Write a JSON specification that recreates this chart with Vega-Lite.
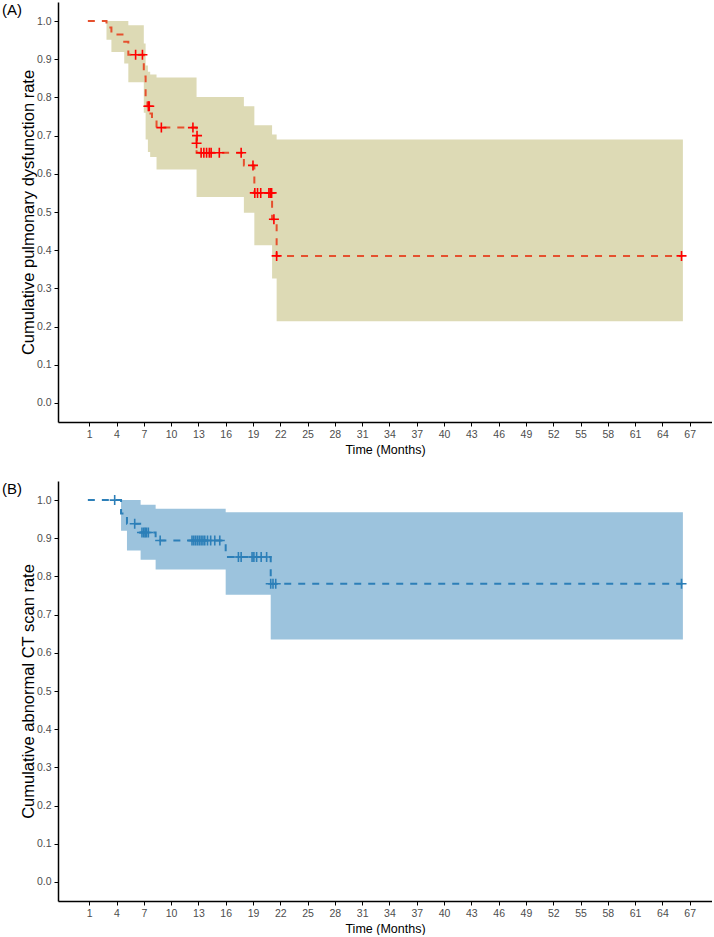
{
  "$schema": "https://vega.github.io/schema/vega-lite/v6.json",
  "padding": {"left": 2, "top": 2, "right": 0, "bottom": 0},
  "spacing": 25,
  "config": {
    "view": {"stroke": null},
    "axis": {"grid": false, "domainColor": "black", "domainWidth": 1.5, "tickColor": "black", "tickSize": 4, "tickWidth": 1, "labelColor": "#4D4D4D", "labelFont": "Liberation Sans", "labelFontSize": 10.5, "labelPadding": 3, "labelOverlap": false, "titleFont": "Liberation Sans", "titleFontSize": 12.5, "titleFontWeight": "normal", "titleColor": "black", "titlePadding": 4},
    "axisX": {"labelOverlap": false, "tickCount": 40},
    "axisY": {"titleFontSize": 16.5, "titlePadding": 0, "tickCount": 20}
  },
  "datasets": {
    "curveA": [
      {"t": 0.85, "S": 1.0}, {"t": 2.9, "S": 0.983}, {"t": 3.44, "S": 0.965}, {"t": 4.85, "S": 0.946},
      {"t": 5.3, "S": 0.912}, {"t": 7.0, "S": 0.855}, {"t": 7.2, "S": 0.797}, {"t": 7.4, "S": 0.777},
      {"t": 7.6, "S": 0.758}, {"t": 7.9, "S": 0.74}, {"t": 8.4, "S": 0.721}, {"t": 12.8, "S": 0.655},
      {"t": 18.0, "S": 0.622}, {"t": 19.15, "S": 0.55}, {"t": 21.1, "S": 0.481}, {"t": 21.6, "S": 0.385},
      {"t": 66.2, "S": 0.385}
    ],
    "bandA": [
      {"t": 2.9, "lo": 0.951, "hi": 1.0}, {"t": 3.44, "lo": 0.919, "hi": 1.0}, {"t": 4.85, "lo": 0.889, "hi": 1.0},
      {"t": 5.3, "lo": 0.84, "hi": 0.989}, {"t": 7.0, "lo": 0.76, "hi": 0.941}, {"t": 7.2, "lo": 0.69, "hi": 0.884},
      {"t": 7.45, "lo": 0.657, "hi": 0.867}, {"t": 7.7, "lo": 0.644, "hi": 0.86}, {"t": 8.4, "lo": 0.611, "hi": 0.852},
      {"t": 12.8, "lo": 0.539, "hi": 0.801}, {"t": 18.0, "lo": 0.498, "hi": 0.777}, {"t": 19.15, "lo": 0.413, "hi": 0.727},
      {"t": 21.1, "lo": 0.326, "hi": 0.703}, {"t": 21.6, "lo": 0.214, "hi": 0.69}, {"t": 66.25, "lo": 0.214, "hi": 0.69}
    ],
    "censA": [
      {"t": 6.1, "S": 0.912}, {"t": 6.85, "S": 0.912}, {"t": 7.5, "S": 0.777}, {"t": 7.6, "S": 0.777},
      {"t": 8.93, "S": 0.721}, {"t": 12.4, "S": 0.721}, {"t": 12.85, "S": 0.70}, {"t": 12.8, "S": 0.68},
      {"t": 13.3, "S": 0.655}, {"t": 13.6, "S": 0.655}, {"t": 13.9, "S": 0.655}, {"t": 14.2, "S": 0.655},
      {"t": 14.4, "S": 0.655}, {"t": 15.3, "S": 0.655}, {"t": 17.7, "S": 0.655}, {"t": 19.0, "S": 0.622},
      {"t": 19.2, "S": 0.55}, {"t": 19.5, "S": 0.55}, {"t": 19.85, "S": 0.55}, {"t": 20.75, "S": 0.55},
      {"t": 20.9, "S": 0.55}, {"t": 21.05, "S": 0.55}, {"t": 21.3, "S": 0.481}, {"t": 21.6, "S": 0.385},
      {"t": 66.1, "S": 0.385}
    ],
    "curveB": [
      {"t": 0.85, "S": 1.0}, {"t": 4.5, "S": 0.965}, {"t": 5.15, "S": 0.938}, {"t": 6.6, "S": 0.915},
      {"t": 8.3, "S": 0.894}, {"t": 16.0, "S": 0.851}, {"t": 20.95, "S": 0.781}, {"t": 66.2, "S": 0.781}
    ],
    "bandB": [
      {"t": 4.5, "lo": 0.92, "hi": 1.0}, {"t": 5.15, "lo": 0.868, "hi": 1.0}, {"t": 6.65, "lo": 0.844, "hi": 0.988},
      {"t": 8.3, "lo": 0.818, "hi": 0.977}, {"t": 16.0, "lo": 0.752, "hi": 0.968}, {"t": 20.95, "lo": 0.635, "hi": 0.968},
      {"t": 66.25, "lo": 0.635, "hi": 0.968}
    ],
    "censB": [
      {"t": 3.8, "S": 1.0}, {"t": 6.0, "S": 0.938}, {"t": 6.8, "S": 0.915}, {"t": 7.0, "S": 0.915},
      {"t": 7.15, "S": 0.915}, {"t": 7.3, "S": 0.915}, {"t": 7.5, "S": 0.915}, {"t": 8.8, "S": 0.894},
      {"t": 12.3, "S": 0.894}, {"t": 12.5, "S": 0.894}, {"t": 12.7, "S": 0.894}, {"t": 12.9, "S": 0.894},
      {"t": 13.1, "S": 0.894}, {"t": 13.3, "S": 0.894}, {"t": 13.5, "S": 0.894}, {"t": 13.7, "S": 0.894},
      {"t": 14.0, "S": 0.894}, {"t": 14.35, "S": 0.894}, {"t": 14.8, "S": 0.894}, {"t": 15.35, "S": 0.894},
      {"t": 17.4, "S": 0.851}, {"t": 17.7, "S": 0.851}, {"t": 18.9, "S": 0.851}, {"t": 19.1, "S": 0.851},
      {"t": 19.4, "S": 0.851}, {"t": 19.9, "S": 0.851}, {"t": 20.5, "S": 0.851}, {"t": 20.95, "S": 0.781},
      {"t": 21.2, "S": 0.781}, {"t": 21.5, "S": 0.781}, {"t": 66.1, "S": 0.781}
    ]
  },
  "vconcat": [
    {
      "width": 654, "height": 420,
      "title": {"text": "(A)", "anchor": "start", "frame": "group", "offset": -16, "dx": -56, "fontSize": 15, "fontWeight": "normal", "font": "Liberation Sans", "color": "black"},
      "layer": [
        {
          "data": {"name": "bandA"},
          "mark": {"type": "area", "interpolate": "step-after", "color": "#DDDAB5", "opacity": 1},
          "encoding": {
            "x": {"field": "t", "type": "quantitative", "scale": {"domain": [-2.43, 69.45], "nice": false, "zero": false},
                  "axis": {"values": [1,4,7,10,13,16,19,22,25,28,31,34,37,40,43,46,49,52,55,58,61,64,67], "tickCount": 40, "title": "Time (Months)", "labelOverlap": false}},
            "y": {"field": "lo", "type": "quantitative", "scale": {"domain": [-0.05, 1.05], "nice": false, "zero": false},
                  "axis": {"values": [0,0.1,0.2,0.3,0.4,0.5,0.6,0.7,0.8,0.9,1.0], "tickCount": 20, "format": ".1f", "title": "Cumulative pulmonary dysfunction rate", "labelOverlap": false}},
            "y2": {"field": "hi"}
          }
        },
        {
          "data": {"name": "curveA"},
          "mark": {"type": "line", "interpolate": "step-after", "color": "#E5502E", "strokeWidth": 2, "strokeDash": [7, 7]},
          "encoding": {
            "x": {"field": "t", "type": "quantitative"},
            "y": {"field": "S", "type": "quantitative"}
          }
        },
        {
          "data": {"name": "censA"},
          "mark": {"type": "point", "shape": "M-1,0H1M0,-1V1", "size": 100, "filled": false, "color": "#FF0000", "strokeWidth": 1.6, "opacity": 1},
          "encoding": {
            "x": {"field": "t", "type": "quantitative"},
            "y": {"field": "S", "type": "quantitative"}
          }
        }
      ]
    },
    {
      "width": 654, "height": 420,
      "title": {"text": "(B)", "anchor": "start", "frame": "group", "offset": -16, "dx": -56, "fontSize": 15, "fontWeight": "normal", "font": "Liberation Sans", "color": "black"},
      "layer": [
        {
          "data": {"name": "bandB"},
          "mark": {"type": "area", "interpolate": "step-after", "color": "#9CC3DD", "opacity": 1},
          "encoding": {
            "x": {"field": "t", "type": "quantitative", "scale": {"domain": [-2.43, 69.45], "nice": false, "zero": false},
                  "axis": {"values": [1,4,7,10,13,16,19,22,25,28,31,34,37,40,43,46,49,52,55,58,61,64,67], "tickCount": 40, "title": "Time (Months)", "labelOverlap": false}},
            "y": {"field": "lo", "type": "quantitative", "scale": {"domain": [-0.05, 1.05], "nice": false, "zero": false},
                  "axis": {"values": [0,0.1,0.2,0.3,0.4,0.5,0.6,0.7,0.8,0.9,1.0], "tickCount": 20, "format": ".1f", "title": "Cumulative abnormal CT scan rate", "labelOverlap": false}},
            "y2": {"field": "hi"}
          }
        },
        {
          "data": {"name": "curveB"},
          "mark": {"type": "line", "interpolate": "step-after", "color": "#2C7FB8", "strokeWidth": 2, "strokeDash": [7, 7]},
          "encoding": {
            "x": {"field": "t", "type": "quantitative"},
            "y": {"field": "S", "type": "quantitative"}
          }
        },
        {
          "data": {"name": "censB"},
          "mark": {"type": "point", "shape": "M-1,0H1M0,-1V1", "size": 100, "filled": false, "color": "#2C7FB8", "strokeWidth": 1.6, "opacity": 1},
          "encoding": {
            "x": {"field": "t", "type": "quantitative"},
            "y": {"field": "S", "type": "quantitative"}
          }
        }
      ]
    }
  ]
}
